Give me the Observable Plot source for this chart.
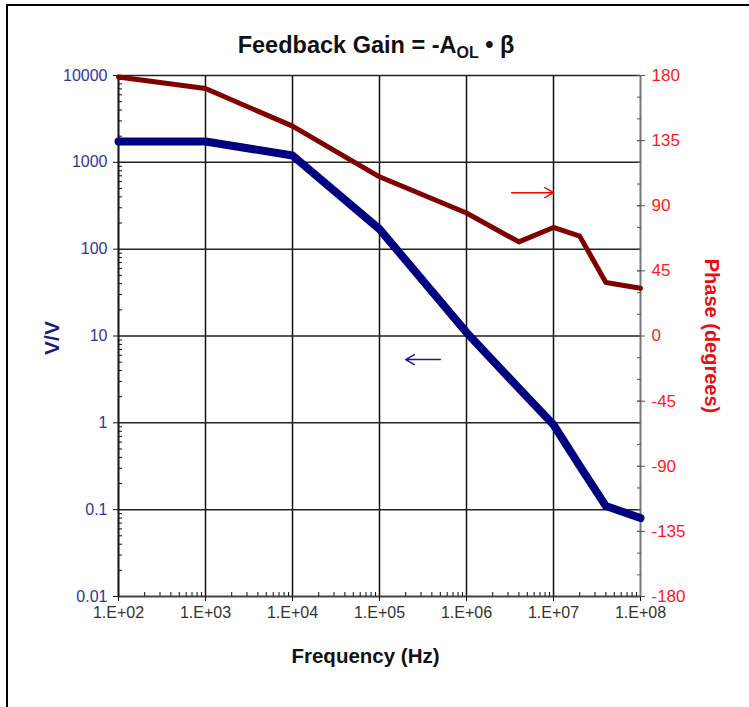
<!DOCTYPE html>
<html>
<head>
<meta charset="utf-8">
<script src="https://cdn.jsdelivr.net/npm/d3@7"></script>
<script src="https://cdn.jsdelivr.net/npm/@observablehq/plot@0.6"></script>
<style>
  html, body { margin: 0; padding: 0; background: #fff; }
  #wrap { position: relative; width: 749px; height: 707px; overflow: hidden; }
  #border { position: absolute; left: 6px; top: 4px; width: 900px; height: 900px;
            border-left: 2px solid #000; border-top: 2px solid #000; pointer-events: none; }
</style>
</head>
<body>
<div id="wrap"><div id="chart"></div><div id="border"></div></div>
<script>
// ---- data ----
const gainFreq  = [1e2, 1e3, 1e4, 1e5, 1e6, 4e6, 1e7, 2e7, 4e7, 1e8];
const gainVV    = [1740, 1740, 1200, 170, 11, 2.5, 0.95, 0.32, 0.11, 0.08];
const phaseFreq = [1e2, 1e3, 1e4, 1e5, 1e6, 4e6, 1e7, 2e7, 4e7, 1e8];
const phaseDeg  = [179, 171, 145, 110, 85, 65, 75, 69, 37, 33];

const freqTicks  = [1e2, 1e3, 1e4, 1e5, 1e6, 1e7, 1e8];
const gainTicks  = [0.01, 0.1, 1, 10, 100, 1000, 10000];
const phaseTicks = [-180, -135, -90, -45, 0, 45, 90, 135, 180];
const phaseMinor = d3.range(-180, 181, 15);

// arrows: [x1, x2, value]  (gain arrow in V/V, phase arrow in degrees)
const gainArrow  = [5e5, 2e5, 5.35];
const phaseArrow = [3.3e6, 1e7, 99];

// phase (deg) -> equivalent position on the V/V log scale (right axis spans 6 decades)
const phaseToY = p => Math.pow(10, -2 + (p + 180) / 60);

const gainData  = gainFreq.map((f, i) => ({f, v: gainVV[i]}));
const phaseData = phaseFreq.map((f, i) => ({f, v: phaseToY(phaseDeg[i])}));
const phaseLabels = phaseTicks.map(p => ({p, v: phaseToY(p)}));

const minorDecades = [];
for (let e = -2; e < 4; e++) for (let m = 2; m <= 9; m++) minorDecades.push(m * Math.pow(10, e));
const minorFreq = [];
for (let e = 2; e < 8; e++) for (let m = 2; m <= 9; m++) minorFreq.push(m * Math.pow(10, e));

const font = "'Liberation Sans', Arial, sans-serif";
const blueText = "#343499";
const redText = "#ff1a1a";

const plot = Plot.plot({
  width: 749,
  height: 707,
  marginLeft: 118,
  marginRight: 109,
  marginTop: 75,
  marginBottom: 111,
  style: {fontFamily: font, background: "transparent"},
  x: {type: "log", domain: [1e2, 1e8]},
  y: {type: "log", domain: [0.01, 10000]},
  marks: [
    // grid
    Plot.ruleX(freqTicks.slice(1, -1), {stroke: "#111", strokeWidth: 1.5}),
    Plot.ruleY(gainTicks.slice(1), {stroke: "#222", strokeWidth: 1.5}),
    Plot.ruleY([0.01], {stroke: "#444", strokeWidth: 2}),
    Plot.ruleX([1e2], {stroke: "#111", strokeWidth: 2}),
    Plot.ruleX([1e8], {stroke: "#777", strokeWidth: 2}),
    // left axis
    Plot.axisY(gainTicks, {anchor: "left", tickSize: 5, tickPadding: 6, fontSize: 16,
      stroke: "#111", fill: blueText, label: null,
      tickFormat: d => String(d)}),
    Plot.axisY(minorDecades, {anchor: "left", tickSize: 4, insetLeft: 4, text: null, stroke: "#111", label: null}),
    // bottom axis
    Plot.axisX(freqTicks, {anchor: "bottom", tickSize: 5, tickPadding: 5, fontSize: 16,
      stroke: "#111", fill: "#333", label: null,
      tickFormat: d => "1.E+" + String(Math.round(Math.log10(d))).padStart(2, "0")}),
    Plot.axisX(minorFreq, {anchor: "bottom", tickSize: 4, insetBottom: 4, text: null, stroke: "#111", label: null}),
    // right axis (phase)
    Plot.axisY(phaseTicks.map(phaseToY), {anchor: "right", tickSize: 8, insetRight: 4, text: null,
      stroke: "#555", label: null}),
    Plot.axisY(phaseMinor.map(phaseToY), {anchor: "right", tickSize: 4, insetRight: 4, text: null, stroke: "#555", label: null}),
    Plot.text(phaseLabels, {x: () => 1e8, y: "v", text: d => String(d.p), textAnchor: "start", dx: 11,
      fontSize: 17, fill: redText}),
    // series
    Plot.line(phaseData, {x: "f", y: "v", stroke: "#800000", strokeWidth: 5, strokeLinejoin: "round"}),
    Plot.line(gainData, {x: "f", y: "v", stroke: "#000080", strokeWidth: 8, strokeLinejoin: "round"}),
    // arrows
    Plot.arrow([{x1: phaseArrow[0], x2: phaseArrow[1], y: phaseToY(phaseArrow[2])}],
      {x1: "x1", x2: "x2", y1: "y", y2: "y", stroke: "#ff0000", strokeWidth: 1.5, headLength: 10}),
    Plot.arrow([{x1: gainArrow[0], x2: gainArrow[1], y: gainArrow[2]}],
      {x1: "x1", x2: "x2", y1: "y", y2: "y", stroke: "#1a1a8c", strokeWidth: 1.5, headLength: 10}),
    // axis titles
    Plot.text(["V/V"], {frameAnchor: "left", textAnchor: "middle", dx: -66, dy: 2, rotate: -90, fontSize: 21,
      fontWeight: "bold", fill: "#1c1c80"}),
    Plot.text(["Phase (degrees)"], {frameAnchor: "right", textAnchor: "middle", dx: 71, rotate: 90, fontSize: 20,
      fontWeight: "bold", fill: "#e8100f"}),
    Plot.text(["Frequency (Hz)"], {frameAnchor: "bottom", textAnchor: "middle", dx: -14, dy: 66, fontSize: 20.5,
      fontWeight: "bold", fill: "#111"})
  ]
});

// title with subscript
const svg = d3.select(plot);
const t = svg.append("text")
  .attr("x", 376).attr("y", 53)
  .attr("text-anchor", "middle")
  .attr("font-family", font)
  .attr("font-size", 23.5)
  .attr("font-weight", "bold")
  .attr("fill", "#111");
t.append("tspan").text("Feedback Gain = -A");
t.append("tspan").attr("font-size", 16).attr("dy", 5).text("OL");
t.append("tspan").attr("dy", -5).text(" \u2022 \u03B2");

document.getElementById("chart").appendChild(plot);
</script>
</body>
</html>
